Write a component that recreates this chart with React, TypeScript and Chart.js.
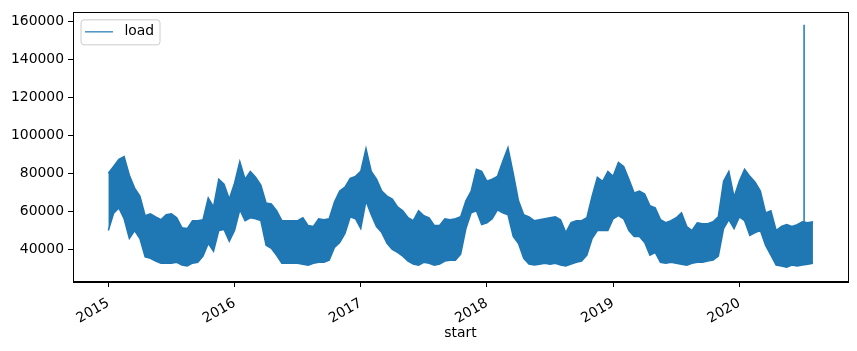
import React, { useEffect, useRef } from "react";
import { Chart, registerables } from "chart.js";

Chart.register(...registerables);

// Time axis: half-month steps starting 2015-01-01 (fractional years)
const START_YEAR = 2015;
const STEPS_PER_YEAR = 24;

// Upper envelope of hourly load (per half-month)
const LOAD_HIGH = [
  80000, 83600, 87300, 88800, 79000, 72200, 68000, 57700, 58700, 57100, 55600, 58200,
  58700, 56600, 51400, 50900, 55100, 55100, 55600, 67000, 62300, 76900, 74300, 66500,
  74800, 86200, 76900, 81000, 77900, 73800, 64400, 63900, 60300, 55100, 55100, 55100,
  55100, 56600, 52500, 52000, 56100, 55600, 56100, 64900, 70700, 72700, 77400, 78400,
  81000, 93000, 81000, 76900, 70700, 68000, 66500, 62300, 60300, 56600, 55100, 60300,
  57700, 56600, 52500, 52500, 56100, 55600, 56100, 57100, 65500, 70700, 82100, 81000,
  75800, 76900, 78400, 86200, 93500, 80000, 65500, 58200, 57100, 55100, 55600, 56100,
  56600, 57100, 55600, 48800, 54000, 55100, 55100, 56600, 68000, 77900, 75800, 81000,
  78400, 85700, 83600, 76900, 69600, 70700, 69100, 62900, 61800, 55600, 54000, 55100,
  56600, 59200, 52000, 49900, 54000, 53500, 53500, 54500, 57100, 75800, 81000, 67500,
  75800, 82100, 78400, 75300, 70700, 59200, 60300, 49900, 52000, 53000, 52000, 53000,
  54500, 54000, 54500,
];

// Lower envelope of hourly load (per half-month)
const LOAD_LOW = [
  49900, 59000, 61800, 56100, 45700, 49900, 45700, 36000, 35300, 33800, 32700, 32700,
  32700, 33200, 31700, 31200, 32700, 33200, 36400, 43100, 39000, 49900, 50400, 44200,
  49900, 60800, 55100, 56600, 56100, 55100, 42100, 40500, 36900, 32700, 32700, 32700,
  32700, 32200, 31700, 32700, 33200, 33200, 34300, 41000, 43600, 48300, 57100, 56100,
  50900, 65500, 58200, 52000, 48800, 43100, 40000, 38400, 36400, 33800, 32200, 31700,
  33200, 32700, 31700, 32200, 33800, 34300, 34300, 37400, 50900, 59200, 60300, 53000,
  54000, 56100, 60800, 59200, 58200, 46800, 43100, 35300, 32200, 31700, 32200, 32700,
  32200, 32700, 31700, 31200, 32200, 33200, 33800, 36900, 45700, 49900, 49900, 49900,
  56100, 57700, 56100, 49900, 46800, 46800, 43600, 36900, 38400, 33200, 32700, 33200,
  32700, 32200, 31700, 32700, 33200, 33200, 33800, 34300, 36400, 50900, 55600, 50900,
  57100, 55100, 47300, 48800, 49900, 42100, 36900, 31700, 31200, 30600, 31700, 31200,
  31700, 32200, 32700,
];

// Single outlier spike (early July 2020)
const SPIKE_DATE = 2020.513;
const SPIKE_BASE = 47000;
const SPIKE_VALUE = 158200;

const X_TICKS = [2015, 2016, 2017, 2018, 2019, 2020];
const Y_TICKS = [40000, 60000, 80000, 100000, 120000, 140000, 160000];

const COLOR = "#1f77b4";
const FONT = "DejaVu Sans";
const FS = 13.9;

export default function App() {
  const ref = useRef<HTMLCanvasElement>(null);

  useEffect(() => {
    const canvas = ref.current;
    if (!canvas) return;
    const toPts = (arr: number[]) =>
      arr.map((v, i) => ({ x: START_YEAR + i / STEPS_PER_YEAR, y: v }));

    const framePlugin = {
      id: "frame",
      afterDraw(chart: any) {
        const { ctx, chartArea: a } = chart;
        ctx.save();
        ctx.strokeStyle = "#000";
        ctx.lineWidth = 1;
        ctx.strokeRect(Math.round(a.left) + 0.5, Math.round(a.top) + 0.5, Math.round(a.right - a.left), Math.round(a.bottom - a.top));
        // legend
        const bx = a.left + 8;
        const by = a.top + 7.5;
        const bw = 79;
        const bh = 25;
        const r = 3;
        ctx.beginPath();
        ctx.moveTo(bx + r, by);
        ctx.lineTo(bx + bw - r, by);
        ctx.arcTo(bx + bw, by, bx + bw, by + r, r);
        ctx.lineTo(bx + bw, by + bh - r);
        ctx.arcTo(bx + bw, by + bh, bx + bw - r, by + bh, r);
        ctx.lineTo(bx + r, by + bh);
        ctx.arcTo(bx, by + bh, bx, by + bh - r, r);
        ctx.lineTo(bx, by + r);
        ctx.arcTo(bx, by, bx + r, by, r);
        ctx.closePath();
        ctx.fillStyle = "rgba(255,255,255,0.8)";
        ctx.fill();
        ctx.strokeStyle = "#cccccc";
        ctx.lineWidth = 1;
        ctx.stroke();
        ctx.beginPath();
        ctx.moveTo(bx + 4, by + 12);
        ctx.lineTo(bx + 32, by + 12);
        ctx.strokeStyle = COLOR;
        ctx.lineWidth = 1.2;
        ctx.stroke();
        ctx.fillStyle = "#000";
        ctx.font = `${FS}px "${FONT}"`;
        ctx.textBaseline = "middle";
        ctx.textAlign = "left";
        ctx.fillText("load", bx + 43.5, by + 12);
        ctx.restore();
      },
    };

    const chart = new Chart(canvas, {
      type: "line",
      data: {
        datasets: [
          {
            label: "load",
            data: toPts(LOAD_HIGH),
            borderColor: COLOR,
            backgroundColor: COLOR,
            borderWidth: 1.5,
            pointRadius: 0,
            fill: "+1",
            tension: 0,
          },
          {
            label: "load_low",
            data: toPts(LOAD_LOW),
            borderColor: COLOR,
            backgroundColor: COLOR,
            borderWidth: 1.5,
            pointRadius: 0,
            fill: false,
            tension: 0,
          },
          {
            label: "spike",
            data: [
              { x: SPIKE_DATE, y: SPIKE_BASE },
              { x: SPIKE_DATE, y: SPIKE_VALUE },
            ],
            borderColor: COLOR,
            borderWidth: 1.5,
            pointRadius: 0,
            fill: false,
          },
        ],
      },
      options: {
        animation: false,
        responsive: false,
        devicePixelRatio: 1,
        layout: { padding: { left: 0, top: 10, right: 9, bottom: 5 } },
        plugins: {
          legend: { display: false },
          tooltip: { enabled: false },
        },
        scales: {
          x: {
            type: "linear",
            min: 2014.72,
            max: 2020.861,
            afterBuildTicks: (s: any) => {
              s.ticks = X_TICKS.map((v) => ({ value: v }));
            },
            afterFit: (s: any) => {
              s.height = 64;
            },
            ticks: {
              autoSkip: false,
              minRotation: 30,
              maxRotation: 30,
              padding: 8,
              color: "#000",
              font: { family: FONT, size: FS },
              callback: (v: any) => String(v),
            },
            grid: {
              display: true,
              drawOnChartArea: false,
              drawTicks: true,
              tickLength: 5,
              color: "#000",
            },
            border: { display: true, color: "#000", width: 1 },
            title: {
              display: true,
              text: "start",
              color: "#000",
              font: { family: FONT, size: FS },
              padding: { top: 0, bottom: 4 },
            },
          },
          y: {
            type: "linear",
            min: 22810,
            max: 164690,
            afterBuildTicks: (s: any) => {
              s.ticks = Y_TICKS.map((v) => ({ value: v }));
            },
            afterFit: (s: any) => {
              s.width = 73;
            },
            ticks: {
              padding: 4,
              color: "#000",
              font: { family: FONT, size: FS },
              callback: (v: any) => String(v),
            },
            grid: {
              display: true,
              drawOnChartArea: false,
              drawTicks: true,
              tickLength: 5,
              color: "#000",
            },
            border: { display: true, color: "#000", width: 1 },
          },
        },
      },
      plugins: [framePlugin],
    });
    return () => chart.destroy();
  }, []);

  return (
    <div style={{ position: "absolute", left: 0, top: 0, width: 857, height: 351, background: "#fff" }}>
      <canvas ref={ref} width={857} height={351} />
    </div>
  );
}
